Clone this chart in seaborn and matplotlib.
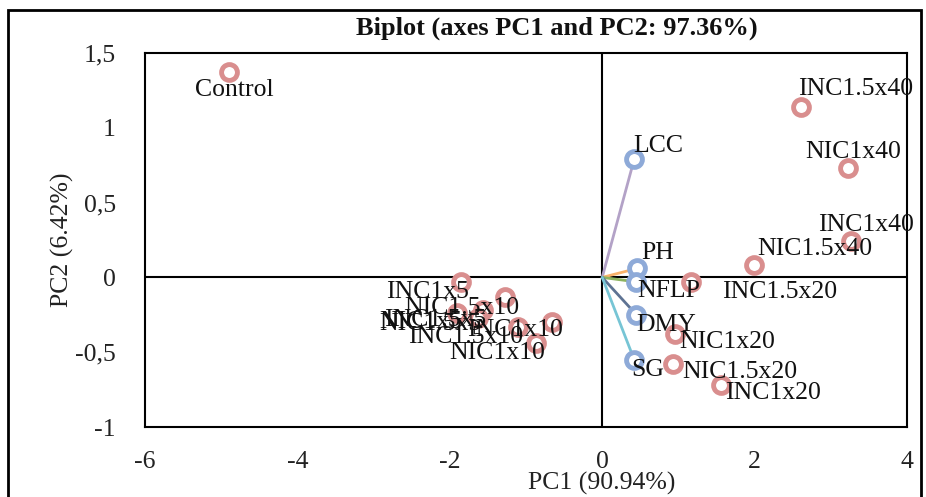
import matplotlib
matplotlib.use("Agg")
import matplotlib.pyplot as plt
import seaborn as sns
import pandas as pd
from matplotlib.patches import Rectangle
from matplotlib.ticker import FuncFormatter

sns.set_theme(style="white")
plt.rcParams['font.family'] = ['Liberation Serif', 'DejaVu Serif']
plt.rcParams['axes.unicode_minus'] = False

# Observations (treatments)
obs_names = ["Control", "INC1.5x40", "NIC1x40", "INC1x40", "NIC1.5x40", "INC1.5x20",
             "NIC1x20", "NIC1.5x20", "INC1x20", "INC1x5", "NIC1.5x10", "NIC1x5",
             "INC1.5x5", "NIC1.5x5", "INC1.5x10", "INC1x10", "NIC1x10"]
obs_pc1 = [-4.90, 2.61, 3.22, 3.27, 1.99, 1.17, 0.96, 0.93, 1.56, -1.85, -1.27, -1.90,
           -1.56, -1.63, -1.10, -0.66, -0.87]
obs_pc2 = [1.37, 1.14, 0.73, 0.24, 0.08, -0.03, -0.38, -0.58, -0.72, -0.03, -0.13, -0.24,
           -0.22, -0.27, -0.33, -0.30, -0.44]

# Variables
var_names = ["LCC", "PH", "NFLP", "DMY", "SG"]
var_pc1 = [0.42, 0.46, 0.45, 0.45, 0.42]
var_pc2 = [0.79, 0.06, -0.03, -0.25, -0.55]
var_colors = ["#b3a2c7", "#f8b26a", "#8db360", "#5e7393", "#77c5d5"]

# label offsets in pixels (style only)
obs_off = [(5, -18), (55, 18), (6, 16), (15, 16), (61, 16), (88, -10), (52, -8), (67, -8),
           (52, -8), (-34, -10), (-44, -11), (-37, -9), (-48, -10), (-48, -6), (-53, -10),
           (-37, -8), (-39, -10)]
var_off = [(24, 13), (20, 15), (32, -9), (30, -10), (14, -10)]

obs_df = pd.DataFrame({"PC1": obs_pc1, "PC2": obs_pc2, "name": obs_names})
var_df = pd.DataFrame({"PC1": var_pc1, "PC2": var_pc2, "name": var_names})

fig = plt.figure(figsize=(9.26, 4.97), dpi=100)
ax = fig.add_axes([145/926, 1-427/497, (907-145)/926, (427-53)/497])

ax.set_xlim(-6, 4)
ax.set_ylim(-1, 1.5)
ax.axhline(0, color="black", lw=1.5, zorder=1)
ax.axvline(0, color="black", lw=1.5, zorder=1)

for x, y, c in zip(var_pc1, var_pc2, var_colors):
    ax.plot([0, x], [0, y], color=c, lw=2, zorder=2)

pink = "#d98e8e"
blue = "#8eaad8"
sns.scatterplot(data=obs_df, x="PC1", y="PC2", ax=ax, s=130, facecolor="white",
                edgecolor=pink, linewidth=3.5, zorder=3, legend=False)
sns.scatterplot(data=var_df, x="PC1", y="PC2", ax=ax, s=130, facecolor="white",
                edgecolor=blue, linewidth=3.5, zorder=3, legend=False)

fs = 18.5
for n, x, y, (dx, dy) in zip(obs_names, obs_pc1, obs_pc2, obs_off):
    ax.annotate(n, (x, y), xytext=(dx, dy), textcoords="offset pixels",
                ha="center", va="center", fontsize=fs, color="#111111", zorder=4)
for n, x, y, (dx, dy) in zip(var_names, var_pc1, var_pc2, var_off):
    ax.annotate(n, (x, y), xytext=(dx, dy), textcoords="offset pixels",
                ha="center", va="center", fontsize=fs, color="#111111", zorder=4)

ax.set_xticks([-6, -4, -2, 0, 2, 4])
ax.set_yticks([-1, -0.5, 0, 0.5, 1, 1.5])
ax.xaxis.set_major_formatter(FuncFormatter(lambda v, p: "%g" % v))
ax.yaxis.set_major_formatter(FuncFormatter(lambda v, p: ("%g" % v).replace(".", ",")))
ax.tick_params(axis="both", labelsize=fs, length=0, colors="#222222")
ax.tick_params(axis="y", pad=21)
ax.tick_params(axis="x", pad=17)
ax.set_xlabel("")
ax.set_ylabel("")
for s in ax.spines.values():
    s.set_color("black")
    s.set_linewidth(1.5)

fig.text(602/926, 1-483/497, "PC1 (90.94%)", ha="center", va="center", fontsize=fs, color="#222222")
fig.text(62/926, 1-240/497, "PC2 (6.42%)", ha="center", va="center", rotation=90, fontsize=fs, color="#222222")
fig.text(557/926, 1-28/497, "Biplot (axes PC1 and PC2: 97.36%)", ha="center", va="center",
         fontsize=19, fontweight="bold", color="#111111")

fig.patches.append(Rectangle((8/926, -0.05), (921-8)/926, 1.05-10/497, transform=fig.transFigure,
                             fill=False, edgecolor="black", lw=2))

fig.savefig("out.png", dpi=100)
